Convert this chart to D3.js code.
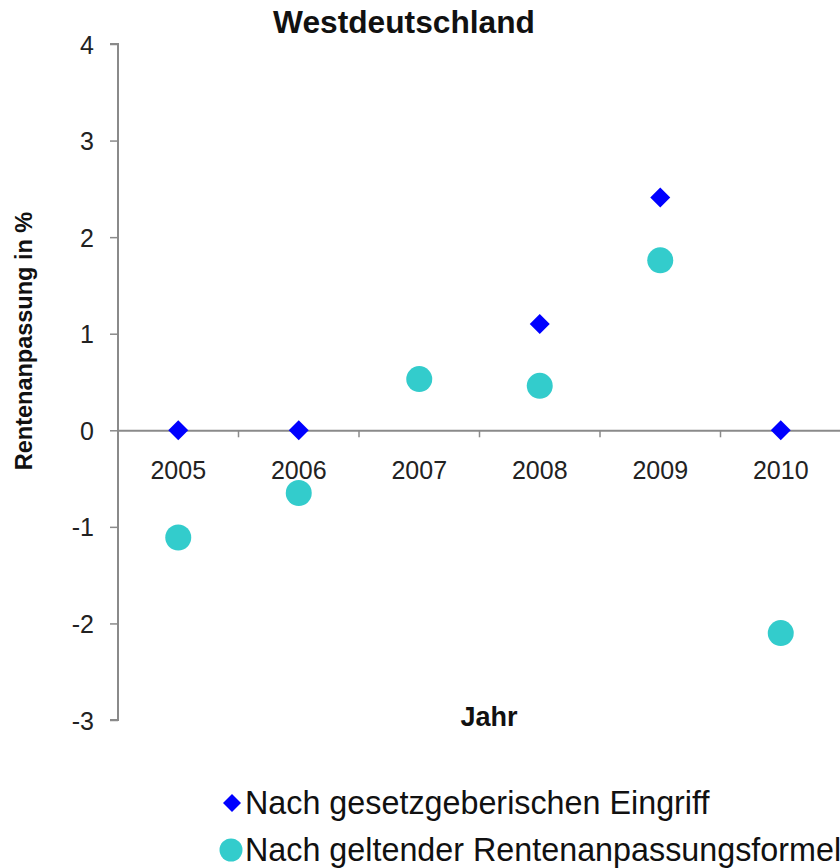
<!DOCTYPE html>
<html><head><meta charset="utf-8">
<script src="https://cdn.jsdelivr.net/npm/d3@7"></script>
<style>body{margin:0;background:#fff}svg{display:block}text{font-family:"Liberation Sans",Arial,sans-serif}</style>
</head><body>
<svg id="c" width="840" height="868"></svg>
<script>
const years = ["2005","2006","2007","2008","2009","2010"];
const eingriff = [0, 0, null, 1.10, 2.41, 0];
const formel = [-1.11, -0.65, 0.53, 0.46, 1.76, -2.10];
const yTicks = [4,3,2,1,0,-1,-2,-3];
const seriesNames = ["Nach gesetzgeberischen Eingriff","Nach geltender Rentenanpassungsformel"];

const svg = d3.select("#c");
const x = d3.scaleBand().domain(years).range([118, 841]);
const y = d3.scaleLinear().domain([-3,4]).range([720, 44]);
const axisColor = "#8a8a8a";

// y axis
const ya = svg.append("g").attr("transform","translate(118,0)")
  .call(d3.axisLeft(y).tickValues(yTicks).tickSize(8).tickFormat(d => String(d)));
ya.select(".domain").attr("stroke",axisColor).attr("stroke-width",2).attr("d","M-8,44H0V720H-8");
ya.selectAll(".tick line").attr("stroke",axisColor).attr("stroke-width",1.5);
ya.selectAll(".tick text").attr("font-size",25).attr("fill","#222").attr("dy","0.36em").attr("x",-24);

// x axis at zero
const xa = svg.append("g").attr("transform",`translate(0,${y(0)})`)
  .call(d3.axisBottom(x).tickSize(0).tickPadding(0));
xa.select(".domain").attr("stroke",axisColor).attr("stroke-width",2);
xa.selectAll(".tick text").attr("font-size",25).attr("fill","#222").attr("dy",null).attr("y",49);
// boundary tick marks
xa.selectAll(".bt").data(years.slice(1)).enter().append("line")
  .attr("x1",d=>x(d)).attr("x2",d=>x(d)).attr("y1",0).attr("y2",7)
  .attr("stroke",axisColor).attr("stroke-width",1.5);

// circles
svg.append("g").selectAll("circle").data(years.map((yr,i)=>({yr,v:formel[i]})).filter(d=>d.v!=null))
  .enter().append("circle")
  .attr("cx",d=>x(d.yr)+x.bandwidth()/2).attr("cy",d=>y(d.v)).attr("r",13)
  .attr("fill","#33cccc");

// diamonds
svg.append("g").selectAll("path").data(years.map((yr,i)=>({yr,v:eingriff[i]})).filter(d=>d.v!=null))
  .enter().append("path")
  .attr("d","M0,-10L10,0L0,10L-10,0Z")
  .attr("transform",d=>`translate(${x(d.yr)+x.bandwidth()/2},${y(d.v)})`)
  .attr("fill","#0000ff");

// title
svg.append("text").attr("x",404).attr("y",33).attr("text-anchor","middle")
  .attr("font-size",31.7).attr("font-weight","bold").attr("fill","#111").text("Westdeutschland");
// y label
svg.append("text").attr("transform","translate(32,341) rotate(-90)").attr("text-anchor","middle")
  .attr("font-size",23.5).attr("font-weight","bold").attr("fill","#111").text("Rentenanpassung in %");
// x label
svg.append("text").attr("x",489).attr("y",726).attr("text-anchor","middle")
  .attr("font-size",27).attr("font-weight","bold").attr("fill","#111").text("Jahr");

// legend
const lg = svg.append("g");
lg.append("path").attr("d","M0,-9L9,0L0,9L-9,0Z").attr("transform","translate(232,803)").attr("fill","#0000ff");
lg.append("text").attr("x",245).attr("y",814).attr("font-size",32.3).attr("fill","#111").text(seriesNames[0]);
lg.append("circle").attr("cx",231).attr("cy",850).attr("r",11.5).attr("fill","#33cccc");
lg.append("text").attr("x",245).attr("y",861).attr("font-size",32.3).attr("fill","#111").text(seriesNames[1]);
</script>
</body></html>
